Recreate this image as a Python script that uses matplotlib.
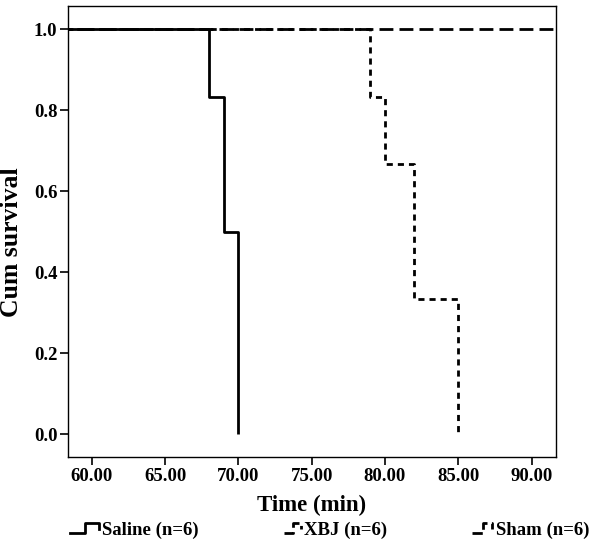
import numpy as np
import matplotlib
matplotlib.use('Agg')
import matplotlib.pyplot as plt
import matplotlib.lines as mlines
from matplotlib.legend_handler import HandlerBase
from matplotlib.ticker import FormatStrFormatter

plt.rcParams['font.family'] = ['Liberation Serif', 'DejaVu Serif']
plt.rcParams['font.weight'] = 'bold'

# Kaplan-Meier data
groups = ['Saline (n=6)', 'XBJ (n=6)', 'Sham (n=6)']
saline_t = [0, 68, 69, 70]
saline_s = [1.0, 0.833, 0.5, 0.0]
xbj_t = [0, 79, 80, 82, 85]
xbj_s = [1.0, 0.833, 0.667, 0.333, 0.0]
sham_t = [0, 120]
sham_s = [1.0, 1.0]

xticks = [60, 65, 70, 75, 80, 85, 90]
yticks = [0.0, 0.2, 0.4, 0.6, 0.8, 1.0]

styles = [
    dict(color='black', lw=2.0, ls='-'),
    dict(color='black', lw=2.0, ls=(0, (2.2, 1.8))),
    dict(color='black', lw=2.0, ls=(0, (5.0, 2.2))),
]


class StepHandler(HandlerBase):
    # SPSS-like little step icon
    def create_artists(self, legend, orig_handle, xdescent, ydescent,
                       width, height, fontsize, trans):
        x0, y0 = -xdescent, -ydescent
        xs = np.array([0, 0.5, 0.5, 0.95, 0.95]) * width + x0
        ys = np.array([0.15, 0.15, 0.85, 0.85, 0.45]) * height + y0
        ln = mlines.Line2D(xs, ys, color=orig_handle.get_color(),
                           lw=orig_handle.get_linewidth(),
                           ls=orig_handle.get_linestyle())
        ln.set_transform(trans)
        return [ln]


fig = plt.figure(figsize=(6.02, 5.43), dpi=100)
ax = fig.add_axes([0.1125, 0.158, 0.811, 0.831])

series = [(saline_t, saline_s), (xbj_t, xbj_s), (sham_t, sham_s)]
handles = []
for (t, s), st in zip(series, styles):
    t_arr = np.array(t, dtype=float)
    s_arr = np.array(s, dtype=float)
    xs = np.repeat(t_arr, 2)[1:]
    ys = np.repeat(s_arr, 2)[:-1]
    ax.plot(xs, ys, **st, solid_capstyle='butt', dash_capstyle='butt')
    handles.append(mlines.Line2D([], [], **st))

ax.set_xlim(58.36, 91.66)
ax.set_ylim(-0.057, 1.0575)
ax.set_xticks(xticks)
ax.set_yticks(yticks)
ax.xaxis.set_major_formatter(FormatStrFormatter('%.2f'))
ax.yaxis.set_major_formatter(FormatStrFormatter('%.1f'))
ax.tick_params(direction='out', length=6, width=1.2, labelsize=13.5, pad=1.5)
for sp in ax.spines.values():
    sp.set_linewidth(1.0)

ax.set_xlabel('Time (min)', fontsize=16.5, fontweight='bold')
ax.set_ylabel('Cum survival', fontsize=18.5, fontweight='bold')
ax.xaxis.set_label_coords(0.5, -0.084)
ax.yaxis.set_label_coords(-0.092, 0.476)

# one legend per group so each sits where the reference puts it
leg_x = [70, 284, 472]
leg_len = [1.6, 0.95, 1.15]
for h, name, lx, hl in zip(handles, groups, leg_x, leg_len):
    lg = fig.legend([h], [name], loc='center left',
                    bbox_to_anchor=(lx / 602, 1 - 530 / 543),
                    frameon=False, fontsize=13.5, handlelength=hl,
                    handletextpad=0.12, borderaxespad=0, borderpad=0,
                    handler_map={mlines.Line2D: StepHandler()})

fig.savefig('out.png', dpi=100)
